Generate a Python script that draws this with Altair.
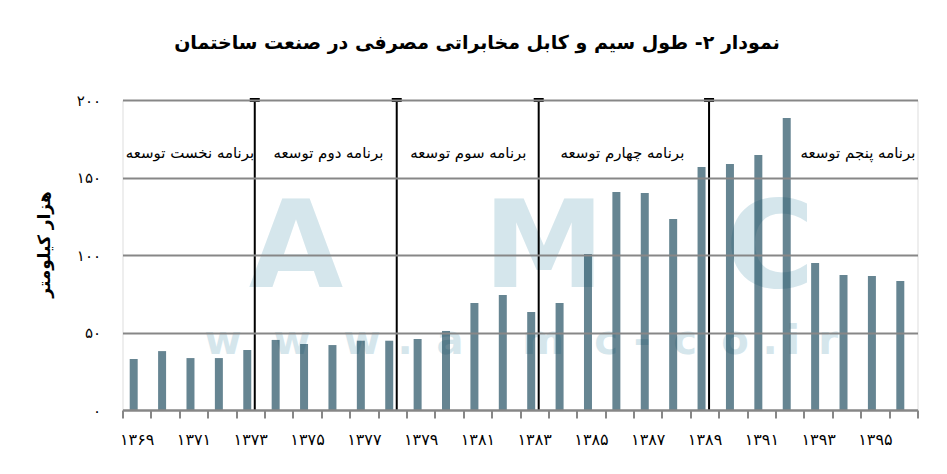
import json
import altair as alt
import pandas as pd

# ---------------- data ----------------
years = ["۱۳۶۹", "۱۳۷۰", "۱۳۷۱", "۱۳۷۲", "۱۳۷۳", "۱۳۷۴", "۱۳۷۵", "۱۳۷۶",
         "۱۳۷۷", "۱۳۷۸", "۱۳۷۹", "۱۳۸۰", "۱۳۸۱", "۱۳۸۲", "۱۳۸۳", "۱۳۸۴",
         "۱۳۸۵", "۱۳۸۶", "۱۳۸۷", "۱۳۸۸", "۱۳۸۹", "۱۳۹۰", "۱۳۹۱", "۱۳۹۲",
         "۱۳۹۳", "۱۳۹۴", "۱۳۹۵", "۱۳۹۶"]
values = [32.9, 38.0, 33.5, 33.5, 38.7, 45.2, 42.6, 41.9, 44.7, 44.7,
          45.8, 51.0, 69.0, 74.2, 63.2, 69.0, 100.6, 140.6, 140.0, 123.2,
          156.8, 158.7, 164.5, 188.4, 94.8, 87.1, 86.5, 83.2]
shown_year_labels = ["۱۳۶۹", "۱۳۷۱", "۱۳۷۳", "۱۳۷۵", "۱۳۷۷", "۱۳۷۹", "۱۳۸۱",
                     "۱۳۸۳", "۱۳۸۵", "۱۳۸۷", "۱۳۸۹", "۱۳۹۱", "۱۳۹۳", "۱۳۹۵"]
y_ticks = [0, 50, 100, 150, 200]
y_tick_labels = ["۰", "۵۰", "۱۰۰", "۱۵۰", "۲۰۰"]

plan_names = ["برنامه نخست توسعه", "برنامه دوم توسعه", "برنامه سوم توسعه",
              "برنامه چهارم توسعه", "برنامه پنجم توسعه"]
plan_label_years = ["۱۳۷۱", "۱۳۷۶", "۱۳۸۱", "۱۳۸۶", "۱۳۹۵"]
plan_last_years = ["۱۳۷۳", "۱۳۷۸", "۱۳۸۳", "۱۳۸۹"]

title_text = "نمودار ۲- طول سیم و کابل مخابراتی مصرفی در صنعت ساختمان"
y_title = "هزار کیلومتر"
watermark_big = ["A", "M", "C"]
watermark_small = list("www.amc-co.ir")

FONT = "DejaVu Sans"

# ---------------- chart ----------------
df = pd.DataFrame({"year": years, "value": values})

x_label_expr = ("indexof(" + json.dumps(shown_year_labels, ensure_ascii=False)
                + ", datum.value) >= 0 ? datum.label : ''")
y_label_expr = (json.dumps(y_tick_labels, ensure_ascii=False) + "[indexof("
                + json.dumps(y_ticks) + ", datum.value)]")

x_enc = alt.X(
    "year:N", sort=None,
    scale=alt.Scale(domain=years, paddingInner=0, paddingOuter=0),
    axis=alt.Axis(title=None, labelAngle=0, tickBand="extent",
                  labelExpr=x_label_expr, grid=False,
                  domainColor="#878787", domainWidth=2,
                  tickColor="#878787", tickWidth=2, tickSize=8,
                  labelPadding=13, labelFontSize=16, labelFont=FONT,
                  labelColor="black", zindex=1),
)
y_enc = alt.Y(
    "value:Q",
    scale=alt.Scale(domain=[0, 200], nice=False),
    axis=alt.Axis(title=y_title, values=y_ticks, labelExpr=y_label_expr,
                  grid=True, gridColor="#878787", gridWidth=2,
                  domain=False, ticks=False, labelPadding=22,
                  labelFontSize=15, labelFont=FONT, labelColor="black",
                  titleFont=FONT, titleFontSize=17, titleFontWeight="bold",
                  titleColor="black", titleX=-78, titleY=144,
                  titleAlign="center", titleBaseline="middle", zindex=1),
)

layers = []

# watermark (decoration, behind the bars)
WM = "#d5e6ec"
for ch, px in zip(watermark_big, [173.5, 421.5, 647.5]):
    layers.append(
        alt.Chart(pd.DataFrame({"c": [ch]})).mark_text(
            font=FONT, fontWeight="bold", fontSize=122, color=WM,
            align="center", baseline="alphabetic"
        ).encode(x=alt.value(px), y=alt.value(187), text="c:N")
    )
wm_centers = [223, 292, 362, 405, 450, 543, 606, 642, 685, 735, 770, 793, 828]
for ch, px in zip(watermark_small, wm_centers):
    layers.append(
        alt.Chart(pd.DataFrame({"c": [ch]})).mark_text(
            font=FONT, fontWeight="bold", fontSize=40, color=WM,
            align="center", baseline="alphabetic"
        ).encode(x=alt.value(px - 122.5), y=alt.value(254), text="c:N")
    )

bars = alt.Chart(df).mark_bar(size=8, xOffset=-3, color="#00344a",
                              opacity=0.6).encode(x=x_enc, y=y_enc)
layers.append(bars)

plan_df = pd.DataFrame({"year": plan_last_years})
rules = alt.Chart(plan_df).mark_rule(color="black", strokeWidth=2,
                                     xOffset=4.5).encode(
    x=alt.X("year:N", sort=None), y=alt.datum(0), y2=alt.datum(200))
caps = alt.Chart(plan_df).mark_tick(color="black", thickness=4, size=10,
                                    orient="horizontal", xOffset=4.5,
                                    opacity=1).encode(
    x=alt.X("year:N", sort=None), y=alt.datum(200))
layers += [rules, caps]

label_dx = [-3.5, -7, -9, 3, -17]
for name, yr, dx in zip(plan_names, plan_label_years, label_dx):
    layers.append(
        alt.Chart(pd.DataFrame({"year": [yr], "name": [name]})).mark_text(
            font=FONT, fontSize=15, color="black", align="center",
            baseline="middle", dx=dx
        ).encode(x=alt.X("year:N", sort=None), y=alt.datum(166),
                 text="name:N")
    )

chart = alt.layer(*layers).properties(
    width=795, height=310,
    title=alt.TitleParams(title_text, font=FONT, fontSize=19,
                          fontWeight="bold", color="black", anchor="middle",
                          dx=-43, offset=40),
    autosize=alt.AutoSizeParams(type="none"),
    padding={"left": 114.5, "top": 92, "right": 21.5, "bottom": 56},
).configure_view(stroke=None).configure(background="white")

chart.save("out.html", embed_options={"renderer": "svg", "actions": False})
